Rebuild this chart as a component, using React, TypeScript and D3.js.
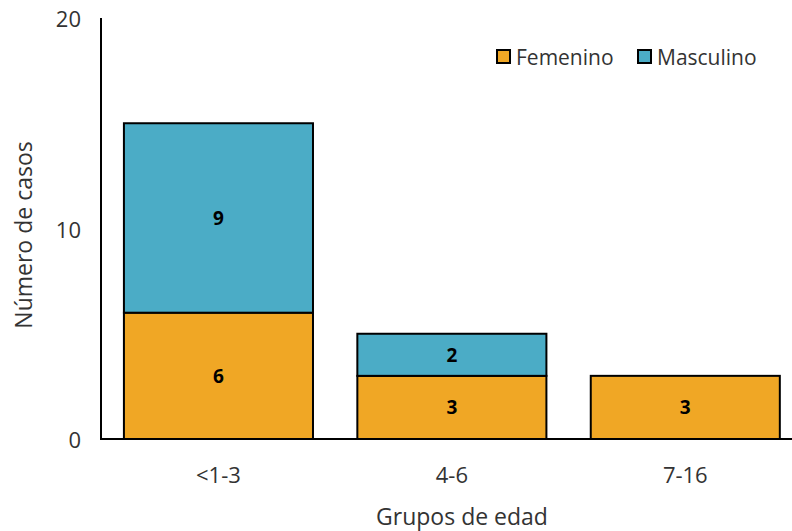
import React from "react";
import * as d3 from "d3";

const categories = ["<1-3", "4-6", "7-16"];
const femenino = [6, 3, 3];
const masculino = [9, 2, 0];
const yTicks = [0, 10, 20];
const seriesNames = ["Femenino", "Masculino"];
const colors = ["#F0A725", "#4BACC6"];

const W = 792;
const H = 531;
const FONT = "'Open Sans', sans-serif";

export default function App() {
  const y = d3.scaleLinear().domain([0, 20]).range([439, 18]);
  const x = d3.scaleBand<string>().domain(categories).range([101.75, 802]).paddingInner(0.19).paddingOuter(0.095);
  const stacked = d3.stack<any>().keys(seriesNames)(
    categories.map((c, i) => ({ cat: c, Femenino: femenino[i], Masculino: masculino[i] }))
  );
  return (
    <svg width={W} height={H} style={{ position: "absolute", left: 0, top: 0 }} fontFamily={FONT}>
      <rect width={W} height={H} fill="#fff" />
      {stacked.map((layer, si) =>
        layer.map((d, i) => {
          const v = d[1] - d[0];
          if (v <= 0) return null;
          const cx = x(categories[i])! + x.bandwidth() / 2;
          return (
            <g key={si + "-" + i}>
              <rect
                x={x(categories[i])}
                y={y(d[1])}
                width={x.bandwidth()}
                height={y(d[0]) - y(d[1])}
                fill={colors[si]}
                stroke="#000"
                strokeWidth={2}
              />
              <text x={cx} y={(y(d[0]) + y(d[1])) / 2} textAnchor="middle" dominantBaseline="central" fontSize={19} fontWeight="bold" fill="#000">
                {v}
              </text>
            </g>
          );
        })
      )}
      <line x1={101} x2={101} y1={18} y2={440} stroke="#000" strokeWidth={2} />
      <line x1={100} x2={W} y1={439} y2={439} stroke="#000" strokeWidth={2} />
      {yTicks.map((t) => (
        <text key={t} x={81} y={y(t)} textAnchor="end" dominantBaseline="central" fontSize={22} fill="#333">
          {t}
        </text>
      ))}
      {categories.map((c) => (
        <text key={c} x={x(c)! + x.bandwidth() / 2} y={474} textAnchor="middle" dominantBaseline="central" fontSize={22} fill="#333">
          {c}
        </text>
      ))}
      <text x={462} y={516} textAnchor="middle" dominantBaseline="central" fontSize={23} fill="#333">
        Grupos de edad
      </text>
      <text transform="translate(23,235) rotate(-90)" textAnchor="middle" dominantBaseline="central" fontSize={23} fill="#333">
        Número de casos
      </text>
      {seriesNames.map((s, i) => {
        const lx = [497, 638][i];
        return (
          <g key={s}>
            <rect x={lx} y={50} width={13} height={13} fill={colors[i]} stroke="#000" strokeWidth={2} />
            <text x={lx + 19} y={57} dominantBaseline="central" fontSize={21} fill="#333">
              {s}
            </text>
          </g>
        );
      })}
    </svg>
  );
}
